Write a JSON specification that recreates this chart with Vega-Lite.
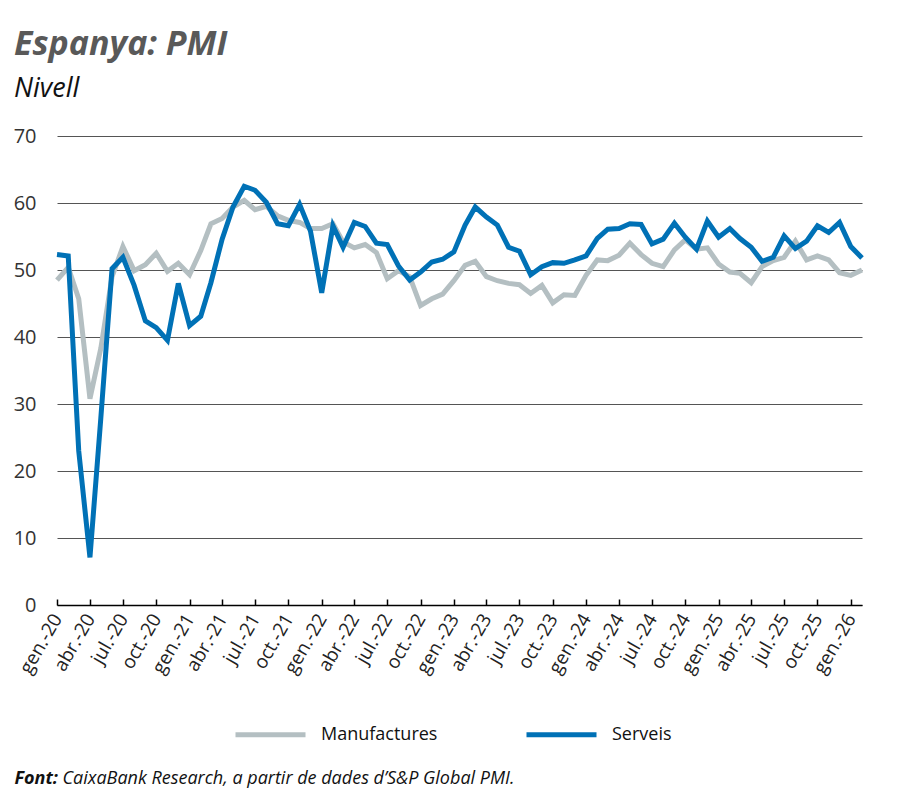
{
  "$schema": "https://vega.github.io/schema/vega-lite/v6.json",
  "width": 805,
  "height": 469,
  "autosize": {"type": "none"},
  "padding": {"left": 57, "top": 136, "right": 38, "bottom": 190},
  "background": "white",
  "title": {
    "text": "Espanya: PMI",
    "subtitle": "Nivell",
    "anchor": "start",
    "frame": "group",
    "dx": -43,
    "offset": 24,
    "font": "Open Sans",
    "fontSize": 34,
    "fontWeight": "bold",
    "fontStyle": "italic",
    "color": "#595959",
    "subtitleFont": "Open Sans",
    "subtitleFontSize": 27,
    "subtitleFontStyle": "italic",
    "subtitleColor": "#111111",
    "subtitlePadding": 14
  },
  "config": {
    "view": {"stroke": null},
    "font": "Open Sans"
  },
  "data": {
    "values": [
      {"date": "2020-01-01", "Manufactures": 48.5, "Serveis": 52.3},
      {"date": "2020-02-01", "Manufactures": 50.4, "Serveis": 52.1},
      {"date": "2020-03-01", "Manufactures": 45.7, "Serveis": 23.0},
      {"date": "2020-04-01", "Manufactures": 30.8, "Serveis": 7.1},
      {"date": "2020-05-01", "Manufactures": 38.3, "Serveis": 27.9},
      {"date": "2020-06-01", "Manufactures": 49.0, "Serveis": 50.2},
      {"date": "2020-07-01", "Manufactures": 53.5, "Serveis": 51.9},
      {"date": "2020-08-01", "Manufactures": 49.9, "Serveis": 47.7},
      {"date": "2020-09-01", "Manufactures": 50.8, "Serveis": 42.4},
      {"date": "2020-10-01", "Manufactures": 52.5, "Serveis": 41.4},
      {"date": "2020-11-01", "Manufactures": 49.8, "Serveis": 39.5},
      {"date": "2020-12-01", "Manufactures": 51.0, "Serveis": 48.0},
      {"date": "2021-01-01", "Manufactures": 49.3, "Serveis": 41.7},
      {"date": "2021-02-01", "Manufactures": 52.9, "Serveis": 43.1},
      {"date": "2021-03-01", "Manufactures": 56.9, "Serveis": 48.1},
      {"date": "2021-04-01", "Manufactures": 57.7, "Serveis": 54.6},
      {"date": "2021-05-01", "Manufactures": 59.4, "Serveis": 59.4},
      {"date": "2021-06-01", "Manufactures": 60.4, "Serveis": 62.5},
      {"date": "2021-07-01", "Manufactures": 59.0, "Serveis": 61.9},
      {"date": "2021-08-01", "Manufactures": 59.5, "Serveis": 60.1},
      {"date": "2021-09-01", "Manufactures": 58.1, "Serveis": 56.9},
      {"date": "2021-10-01", "Manufactures": 57.4, "Serveis": 56.6},
      {"date": "2021-11-01", "Manufactures": 57.1, "Serveis": 59.8},
      {"date": "2021-12-01", "Manufactures": 56.2, "Serveis": 55.8},
      {"date": "2022-01-01", "Manufactures": 56.2, "Serveis": 46.6},
      {"date": "2022-02-01", "Manufactures": 56.9, "Serveis": 56.6},
      {"date": "2022-03-01", "Manufactures": 54.2, "Serveis": 53.4},
      {"date": "2022-04-01", "Manufactures": 53.3, "Serveis": 57.1},
      {"date": "2022-05-01", "Manufactures": 53.8, "Serveis": 56.5},
      {"date": "2022-06-01", "Manufactures": 52.6, "Serveis": 54.0},
      {"date": "2022-07-01", "Manufactures": 48.7, "Serveis": 53.8},
      {"date": "2022-08-01", "Manufactures": 49.9, "Serveis": 50.6},
      {"date": "2022-09-01", "Manufactures": 49.0, "Serveis": 48.5},
      {"date": "2022-10-01", "Manufactures": 44.7, "Serveis": 49.7},
      {"date": "2022-11-01", "Manufactures": 45.7, "Serveis": 51.2},
      {"date": "2022-12-01", "Manufactures": 46.4, "Serveis": 51.6},
      {"date": "2023-01-01", "Manufactures": 48.4, "Serveis": 52.7},
      {"date": "2023-02-01", "Manufactures": 50.7, "Serveis": 56.7},
      {"date": "2023-03-01", "Manufactures": 51.3, "Serveis": 59.4},
      {"date": "2023-04-01", "Manufactures": 49.0, "Serveis": 57.9},
      {"date": "2023-05-01", "Manufactures": 48.4, "Serveis": 56.7},
      {"date": "2023-06-01", "Manufactures": 48.0, "Serveis": 53.4},
      {"date": "2023-07-01", "Manufactures": 47.8, "Serveis": 52.8},
      {"date": "2023-08-01", "Manufactures": 46.5, "Serveis": 49.3},
      {"date": "2023-09-01", "Manufactures": 47.7, "Serveis": 50.5},
      {"date": "2023-10-01", "Manufactures": 45.1, "Serveis": 51.1},
      {"date": "2023-11-01", "Manufactures": 46.3, "Serveis": 51.0},
      {"date": "2023-12-01", "Manufactures": 46.2, "Serveis": 51.5},
      {"date": "2024-01-01", "Manufactures": 49.2, "Serveis": 52.1},
      {"date": "2024-02-01", "Manufactures": 51.5, "Serveis": 54.7},
      {"date": "2024-03-01", "Manufactures": 51.4, "Serveis": 56.1},
      {"date": "2024-04-01", "Manufactures": 52.2, "Serveis": 56.2},
      {"date": "2024-05-01", "Manufactures": 54.0, "Serveis": 56.9},
      {"date": "2024-06-01", "Manufactures": 52.3, "Serveis": 56.8},
      {"date": "2024-07-01", "Manufactures": 51.0, "Serveis": 53.9},
      {"date": "2024-08-01", "Manufactures": 50.5, "Serveis": 54.6},
      {"date": "2024-09-01", "Manufactures": 53.0, "Serveis": 57.0},
      {"date": "2024-10-01", "Manufactures": 54.5, "Serveis": 54.9},
      {"date": "2024-11-01", "Manufactures": 53.1, "Serveis": 53.1},
      {"date": "2024-12-01", "Manufactures": 53.3, "Serveis": 57.3},
      {"date": "2025-01-01", "Manufactures": 50.9, "Serveis": 54.9},
      {"date": "2025-02-01", "Manufactures": 49.7, "Serveis": 56.2},
      {"date": "2025-03-01", "Manufactures": 49.5, "Serveis": 54.7},
      {"date": "2025-04-01", "Manufactures": 48.1, "Serveis": 53.4},
      {"date": "2025-05-01", "Manufactures": 50.5, "Serveis": 51.3},
      {"date": "2025-06-01", "Manufactures": 51.4, "Serveis": 51.9},
      {"date": "2025-07-01", "Manufactures": 51.9, "Serveis": 55.1},
      {"date": "2025-08-01", "Manufactures": 54.3, "Serveis": 53.2},
      {"date": "2025-09-01", "Manufactures": 51.5, "Serveis": 54.3},
      {"date": "2025-10-01", "Manufactures": 52.1, "Serveis": 56.6},
      {"date": "2025-11-01", "Manufactures": 51.5, "Serveis": 55.6},
      {"date": "2025-12-01", "Manufactures": 49.6, "Serveis": 57.1},
      {"date": "2026-01-01", "Manufactures": 49.2, "Serveis": 53.5},
      {"date": "2026-02-01", "Manufactures": 50.0, "Serveis": 51.8}
    ]
  },
  "transform": [
    {"fold": ["Manufactures", "Serveis"], "as": ["serie", "valor"]}
  ],
  "mark": {"type": "line", "strokeWidth": 5, "strokeJoin": "miter", "strokeCap": "butt"},
  "encoding": {
    "x": {
      "field": "date",
      "type": "temporal",
      "scale": {"type": "utc", "domain": ["2020-01-01", "2026-02-01"]},
      "axis": {
        "tickCount": {"interval": "month", "step": 3},
        "labelExpr": "['gen.','feb.','març','abr.','maig','juny','jul.','ag.','set.','oct.','nov.','des.'][utcmonth(datum.value)] + '-' + slice(toString(utcyear(datum.value)), 2)",
        "labelAngle": -60,
        "labelAlign": "right",
        "labelBaseline": "middle",
        "labelFont": "Open Sans",
        "labelFontSize": 19,
        "labelColor": "#222222",
        "labelPadding": 16,
        "labelOverlap": false,
        "labelFlush": false,
        "grid": false,
        "domain": true,
        "domainColor": "#000000",
        "domainWidth": 1.5,
        "ticks": true,
        "tickColor": "#000000",
        "tickWidth": 1.5,
        "tickSize": -6,
        "title": "CaixaBank Research, a partir de dades d’S&P Global PMI.",
        "titleFont": "Open Sans",
        "titleFontSize": 18,
        "titleFontStyle": "italic",
        "titleFontWeight": "normal",
        "titleColor": "#111111",
        "titleX": 5,
        "titleY": 178,
        "titleAlign": "left",
        "titleBaseline": "alphabetic",
        "titleAnchor": "start"
      }
    },
    "y": {
      "field": "valor",
      "type": "quantitative",
      "scale": {"domain": [0, 70], "nice": false},
      "axis": {
        "values": [0, 10, 20, 30, 40, 50, 60, 70],
        "labelFont": "Open Sans",
        "labelFontSize": 20,
        "labelColor": "#333333",
        "labelPadding": 21,
        "domain": false,
        "ticks": false,
        "grid": true,
        "gridColor": "#555555",
        "gridWidth": 1,
        "title": "Font:",
        "titleFont": "Open Sans",
        "titleFontSize": 18,
        "titleFontStyle": "italic",
        "titleFontWeight": "bold",
        "titleColor": "#111111",
        "titleAngle": 0,
        "titleX": -43,
        "titleY": 647,
        "titleAlign": "left",
        "titleBaseline": "alphabetic"
      }
    },
    "color": {
      "field": "serie",
      "type": "nominal",
      "scale": {"domain": ["Manufactures", "Serveis"], "range": ["#b4bfc2", "#0071b6"]},
      "legend": {
        "title": null,
        "orient": "none",
        "direction": "horizontal",
        "legendX": 176,
        "legendY": 561,
        "symbolType": "stroke",
        "symbolSize": 4900,
        "symbolStrokeWidth": 5,
        "labelFont": "Open Sans",
        "labelFontSize": 18,
        "labelColor": "#111111",
        "labelOffset": 13,
        "columnPadding": 78
      }
    }
  }
}
